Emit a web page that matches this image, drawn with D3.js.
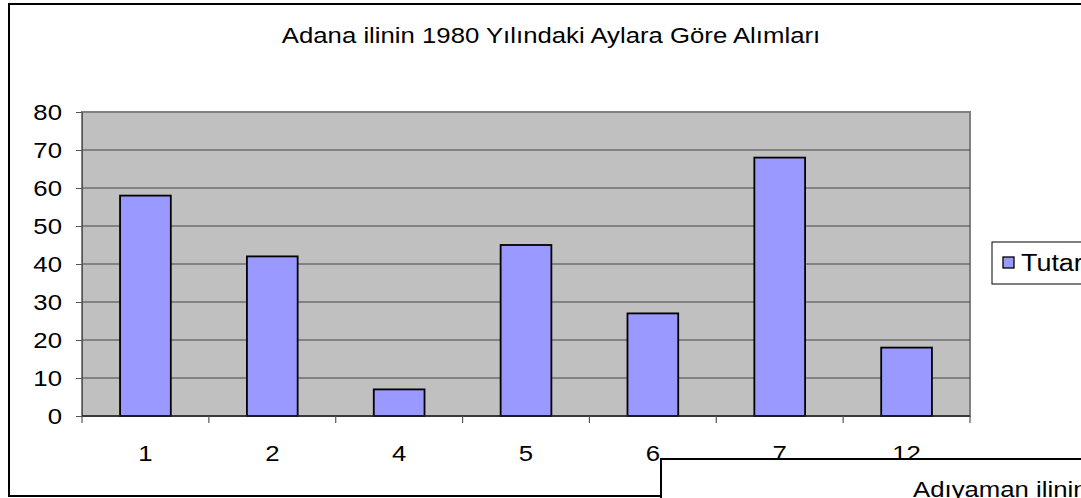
<!DOCTYPE html>
<html>
<head>
<meta charset="utf-8">
<script src="https://cdn.jsdelivr.net/npm/d3@7"></script>
<style>
body { margin: 0; background: #fff; }
svg { display: block; font-family: "Liberation Sans", Arial, sans-serif; }
</style>
</head>
<body>
<script>
var months = ["1", "2", "4", "5", "6", "7", "12"];
var tutar = [58, 42, 7, 45, 27, 68, 18];
var yTicks = [0, 10, 20, 30, 40, 50, 60, 70, 80];

var width = 1081, height = 498;
var plotL = 82, plotR = 970, plotT = 112, plotB = 416;
var fs = 22, sx = 1.17; // text looks stretched sideways in the original

var svg = d3.select("body").append("svg")
	.attr("width", width).attr("height", height);

function label(g, x, y, anchor, txt) {
	return g.append("text")
		.attr("transform", "translate(" + x + "," + y + ") scale(" + sx + ",1)")
		.attr("text-anchor", anchor).attr("font-size", fs)
		.text(txt);
}

// outer chart frame
svg.append("rect")
	.attr("x", 9).attr("y", 4).attr("width", 1090).attr("height", 492)
	.attr("fill", "#fff").attr("stroke", "#000").attr("stroke-width", 2);

label(svg, 551, 43, "middle", "Adana ilinin 1980 Yılındaki Aylara Göre Alımları");

var xScale = d3.scaleBand().domain(months).range([plotL, plotR]).paddingInner(0.6).paddingOuter(0.3);
var yScale = d3.scaleLinear().domain([0, 80]).range([plotB, plotT]);

// plot area
svg.append("rect")
	.attr("x", plotL).attr("y", plotT).attr("width", plotR - plotL).attr("height", plotB - plotT)
	.attr("fill", "#c0c0c0").attr("stroke", "#808080").attr("stroke-width", 2);

svg.selectAll("line.grid").data(yTicks.slice(1, -1)).enter().append("line")
	.attr("class", "grid")
	.attr("x1", plotL).attr("x2", plotR)
	.attr("y1", function(d) { return yScale(d); })
	.attr("y2", function(d) { return yScale(d); })
	.attr("stroke", "#444").attr("stroke-width", 1.2);

svg.selectAll("rect.bar").data(tutar).enter().append("rect")
	.attr("class", "bar")
	.attr("x", function(d, i) { return xScale(months[i]); })
	.attr("y", function(d) { return yScale(d); })
	.attr("width", xScale.bandwidth())
	.attr("height", function(d) { return plotB - yScale(d); })
	.attr("fill", "#9999ff").attr("stroke", "#000").attr("stroke-width", 1.8);

// y axis
var yAxis = d3.axisLeft(yScale).tickValues(yTicks).tickSize(6).tickFormat("");
var gy = svg.append("g").attr("transform", "translate(" + plotL + ",0)").call(yAxis);
gy.select(".domain").attr("stroke", "#555");
gy.selectAll(".tick line").attr("stroke", "#555");
yTicks.forEach(function(t) {
	label(svg, 62, yScale(t) + 8, "end", String(t));
});

// x axis: ticks between categories
var step = (plotR - plotL) / months.length;
var xb = d3.range(months.length + 1).map(function(i) { return plotL + i * step; });
svg.append("line").attr("x1", plotL).attr("x2", plotR).attr("y1", plotB).attr("y2", plotB)
	.attr("stroke", "#222").attr("stroke-width", 1.5);
svg.selectAll("line.xt").data(xb).enter().append("line")
	.attr("class", "xt")
	.attr("x1", function(d) { return d; }).attr("x2", function(d) { return d; })
	.attr("y1", plotB).attr("y2", plotB + 7)
	.attr("stroke", "#555").attr("stroke-width", 1.2);
months.forEach(function(m) {
	label(svg, xScale(m) + xScale.bandwidth() / 2, 461, "middle", m);
});

// legend
var lg = svg.append("g");
lg.append("rect").attr("x", 992).attr("y", 242).attr("width", 120).attr("height", 42)
	.attr("fill", "#fff").attr("stroke", "#000").attr("stroke-width", 1);
lg.append("rect").attr("x", 1003).attr("y", 257).attr("width", 11).attr("height", 11)
	.attr("fill", "#9999ff").attr("stroke", "#000").attr("stroke-width", 1.3);
label(lg, 1021, 271, "start", "Tutar").attr("font-size", 23);

// overlapping second chart frame
svg.append("rect")
	.attr("x", 661).attr("y", 459).attr("width", 500).attr("height", 100)
	.attr("fill", "#fff").attr("stroke", "#000").attr("stroke-width", 2);
label(svg, 913, 497, "start", "Adıyaman ilinin 1980 Yılındaki Aylara Göre Alımları");
</script>
</body>
</html>
